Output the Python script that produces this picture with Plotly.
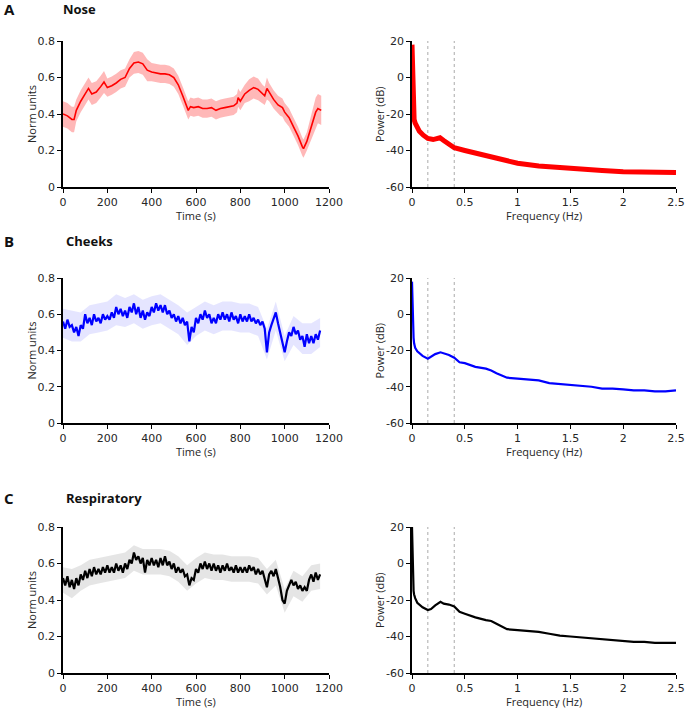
import plotly.graph_objects as go

W, H = 685, 708

# ---------------- data ----------------
nose_t = [0,20,40,50,60,80,100,115,130,150,170,185,200,220,240,260,280,300,320,340,
          360,380,400,420,440,460,480,500,520,540,555,565,575,590,610,630,650,670,690,710,
          730,750,770,785,790,800,820,840,860,880,900,910,920,930,950,970,980,990,1000,1020,
          1040,1060,1080,1085,1100,1120,1140,1150,1165]
nose_v = [0.40,0.39,0.37,0.37,0.42,0.47,0.51,0.54,0.51,0.52,0.55,0.575,0.545,0.555,0.57,
          0.59,0.60,0.65,0.68,0.685,0.675,0.64,0.63,0.625,0.62,0.62,0.615,0.60,0.56,0.50,
          0.45,0.42,0.44,0.435,0.44,0.43,0.43,0.435,0.42,0.43,0.435,0.44,0.445,0.46,0.49,
          0.47,0.51,0.53,0.545,0.535,0.51,0.50,0.54,0.52,0.48,0.45,0.44,0.435,0.41,0.38,
          0.33,0.28,0.22,0.21,0.25,0.33,0.41,0.43,0.42]
nose_sd = [0.07,0.07,0.07,0.07,0.06, 0.06,0.06,0.06,0.06,0.06, 0.06,0.06,0.05,0.05,0.05,
           0.05,0.05,0.05,0.06,0.06, 0.06,0.06,0.05,0.05,0.05, 0.05,0.05,0.05,0.05,0.05,
           0.05,0.05,0.05,0.05,0.05, 0.05,0.05,0.05,0.05,0.05, 0.05,0.05,0.05,0.05,0.05,
           0.05,0.05,0.06,0.06,0.06, 0.05,0.05,0.06,0.05,0.05, 0.05,0.05,0.05,0.05,0.05,
           0.05,0.05,0.05,0.05,0.05, 0.07,0.08,0.08,0.08]

dense_t = list(range(0, 1170, 10))
cheeks_v = [0.56,0.52,0.57,0.53,0.54,0.50,0.53,0.48,0.54,0.52,
            0.60,0.55,0.58,0.54,0.60,0.56,0.58,0.55,0.60,0.57,
            0.59,0.57,0.61,0.58,0.64,0.60,0.63,0.59,0.62,0.58,
            0.64,0.61,0.66,0.60,0.64,0.58,0.62,0.57,0.61,0.59,
            0.64,0.61,0.66,0.62,0.65,0.61,0.65,0.60,0.62,0.58,
            0.60,0.56,0.59,0.55,0.58,0.54,0.56,0.45,0.53,0.50,
            0.58,0.55,0.60,0.57,0.62,0.58,0.60,0.55,0.58,0.55,
            0.60,0.57,0.61,0.57,0.60,0.56,0.61,0.57,0.59,0.55,
            0.60,0.56,0.59,0.56,0.60,0.56,0.58,0.55,0.57,0.54,
            0.56,0.52,0.39,0.50,0.54,0.57,0.61,0.55,0.49,0.44,
            0.39,0.45,0.50,0.48,0.53,0.49,0.51,0.46,0.48,0.42,
            0.49,0.44,0.48,0.44,0.49,0.46,0.51]
resp_v = [0.52,0.48,0.53,0.47,0.51,0.46,0.52,0.48,0.54,0.51,
          0.56,0.52,0.57,0.53,0.58,0.54,0.57,0.54,0.58,0.55,
          0.59,0.55,0.58,0.55,0.60,0.56,0.59,0.55,0.60,0.57,
          0.62,0.60,0.66,0.62,0.64,0.60,0.63,0.55,0.62,0.59,
          0.63,0.59,0.62,0.58,0.63,0.59,0.64,0.59,0.61,0.57,
          0.60,0.55,0.58,0.55,0.57,0.53,0.54,0.48,0.52,0.51,
          0.57,0.55,0.60,0.57,0.61,0.57,0.60,0.56,0.60,0.56,
          0.59,0.55,0.59,0.56,0.60,0.56,0.58,0.55,0.59,0.55,
          0.58,0.55,0.58,0.55,0.59,0.56,0.58,0.54,0.57,0.54,
          0.56,0.52,0.47,0.54,0.56,0.53,0.57,0.52,0.47,0.40,
          0.38,0.45,0.48,0.51,0.48,0.50,0.46,0.48,0.45,0.47,
          0.45,0.51,0.54,0.50,0.55,0.51,0.54]

band_t = list(range(0, 1200, 40))
cheeks_hi = [0.63,0.62,0.61,0.65,0.66,0.67,0.71,0.69,0.71,0.68,0.70,0.71,0.68,0.65,0.61,
             0.64,0.67,0.65,0.67,0.67,0.66,0.66,0.64,0.52,0.67,0.48,0.59,0.55,0.55,0.58]
cheeks_lo = [0.47,0.45,0.45,0.49,0.50,0.51,0.54,0.53,0.55,0.52,0.54,0.55,0.52,0.49,0.43,
             0.48,0.51,0.49,0.51,0.51,0.50,0.50,0.48,0.35,0.51,0.34,0.43,0.38,0.38,0.42]
resp_hi = [0.58,0.57,0.59,0.62,0.63,0.64,0.65,0.66,0.70,0.68,0.68,0.68,0.67,0.64,0.59,
           0.63,0.66,0.65,0.65,0.64,0.64,0.64,0.63,0.57,0.62,0.46,0.56,0.53,0.59,0.60]
resp_lo = [0.44,0.41,0.45,0.48,0.49,0.50,0.51,0.52,0.56,0.54,0.54,0.54,0.53,0.50,0.45,
           0.49,0.52,0.51,0.51,0.50,0.50,0.50,0.49,0.43,0.48,0.33,0.42,0.39,0.45,0.46]

nose_f = [0,0.003,0.006,0.01,0.013,0.02,0.03,0.044,0.07,0.107,0.15,0.2,0.265,0.3,0.35,
          0.4,0.5,0.6,0.7,0.8,0.9,1.0,1.2,1.5,1.8,2.0,2.2,2.5]
nose_p = [18,10,0,-12,-20,-23,-25,-27,-29.5,-31.6,-33.4,-34,-33,-34.5,-36.5,
          -38.5,-40,-41.5,-43,-44.5,-46,-47,-48.5,-50,-51,-51.6,-52,-52]
psd_f = [0,0.003,0.006,0.01,0.015,0.02,0.03,0.05,0.08,0.1,0.15,0.18,0.22,0.27,0.3,0.35,
         0.4,0.45,0.5,0.6,0.7,0.75,0.8,0.9,1.0,1.1,1.2,1.3,1.4,1.5,1.6,1.7,1.8,1.9,2.0,
         2.1,2.2,2.3,2.4,2.5]
cheeks_p = [18,8,0,-8,-13,-16,-18.5,-20.5,-22,-23,-24.5,-23.5,-22,-21,-21.5,-22.5,
            -24,-26.5,-27,-29,-30,-31,-32.5,-35,-35.5,-36,-36.5,-38,-38.5,-39,-39.5,-40,
            -41,-41,-41.5,-42,-42,-42.5,-42.5,-42]
resp_p = [20,8,0,-8,-15,-17,-19,-21.5,-23,-24,-25.5,-25,-23,-21,-22,-22.5,
          -23.5,-26.5,-27.5,-29.5,-31,-31.5,-33,-36,-36.5,-37,-37.5,-38.5,-39.5,-40,-40.5,-41,
          -41.5,-42,-42.5,-43,-43,-43.5,-43.5,-43.5]
band_edges_hz = [0.15, 0.4]

panels = [("A", "Nose"), ("B", "Cheeks"), ("C", "Respiratory")]
time_ticks = [0, 200, 400, 600, 800, 1000, 1200]
norm_ticks = [0, 0.2, 0.4, 0.6, 0.8]
norm_ticklabels = ["0", "0.2", "0.4", "0.6", "0.8"]
freq_ticks = [0, 0.5, 1, 1.5, 2, 2.5]
freq_ticklabels = ["0", "0.5", "1", "1.5", "2", "2.5"]
pow_ticks = [-60, -40, -20, 0, 20]

# ---------------- layout geometry (pixels) ----------------
left_x = (63, 329)
right_x = (412, 676)
rows_px = [(41, 187), (278, 423), (527, 673)]
xlab_y = [215, 451, 701]
title_y = [9, 241, 498]

def px2x(p): return p / W
def px2y(p): return 1 - p / H

fig = go.Figure()

tick_font = dict(family="DejaVu Sans", size=11, color="#262626")

def add_axes(idx, xdom, ydom, xr, yr, xt, xtl, yt, ytl):
    xa = "xaxis" if idx == 1 else f"xaxis{idx}"
    ya = "yaxis" if idx == 1 else f"yaxis{idx}"
    yname = "y" if idx == 1 else f"y{idx}"
    xname = "x" if idx == 1 else f"x{idx}"
    common = dict(showline=True, linecolor="black", linewidth=1.6, ticks="outside",
                  ticklen=4, tickwidth=1.2, tickcolor="black", showgrid=False,
                  zeroline=False, tickfont=tick_font, fixedrange=True, automargin=False)
    fig.layout[xa] = dict(domain=[px2x(xdom[0]), px2x(xdom[1])], range=xr, tickvals=xt,
                          ticktext=xtl, anchor=yname, **common)
    fig.layout[ya] = dict(domain=[px2y(ydom[1]), px2y(ydom[0])], range=yr, tickvals=yt,
                          ticktext=ytl, anchor=xname, **common)
    return xname, yname

series = [
    dict(color="#ff0000", band="rgba(255,0,0,0.28)"),
    dict(color="#0000ff", band="rgba(0,0,255,0.10)"),
    dict(color="#000000", band="rgba(0,0,0,0.10)"),
]

annotations = []
shapes = []
for r in range(3):
    li = 2 * r + 1
    ri = 2 * r + 2
    lx, ly = add_axes(li, left_x, rows_px[r], [0, 1200], [0, 0.8], time_ticks,
                      [str(v) for v in time_ticks], norm_ticks, norm_ticklabels)
    rx, ry = add_axes(ri, right_x, rows_px[r], [0, 2.5], [-60, 20], freq_ticks,
                      freq_ticklabels, pow_ticks, [str(v) for v in pow_ticks])
    c = series[r]
    if r == 0:
        lo = [v - s for v, s in zip(nose_v, nose_sd)]
        hi = [v + s for v, s in zip(nose_v, nose_sd)]
        bt, mt, mv = nose_t, nose_t, nose_v
        lw = 1.6
    elif r == 1:
        lo, hi, bt, mt, mv = cheeks_lo, cheeks_hi, band_t, dense_t, cheeks_v
        lw = 2.2
    else:
        lo, hi, bt, mt, mv = resp_lo, resp_hi, band_t, dense_t, resp_v
        lw = 2.2
    fig.add_trace(go.Scatter(x=bt, y=lo, xaxis=lx, yaxis=ly, mode="lines",
                             line=dict(width=0, color=c["band"]), showlegend=False,
                             hoverinfo="skip"))
    fig.add_trace(go.Scatter(x=bt, y=hi, xaxis=lx, yaxis=ly, mode="lines", fill="tonexty",
                             fillcolor=c["band"], line=dict(width=0, color=c["band"]),
                             showlegend=False, hoverinfo="skip"))
    fig.add_trace(go.Scatter(x=mt, y=mv, xaxis=lx, yaxis=ly, mode="lines",
                             line=dict(width=lw, color=c["color"]), showlegend=False))
    # PSD
    if r == 0:
        pf, pp, pw = nose_f, nose_p, 5
    elif r == 1:
        pf, pp, pw = psd_f, cheeks_p, 2.2
    else:
        pf, pp, pw = psd_f, resp_p, 2.2
    for fe in band_edges_hz:
        shapes.append(dict(type="line", xref=rx, yref=ry, x0=fe, x1=fe, y0=-60, y1=20,
                           line=dict(color="#aaaaaa", width=1, dash="dot"), layer="below"))
    fig.add_trace(go.Scatter(x=pf, y=pp, xaxis=rx, yaxis=ry, mode="lines",
                             line=dict(width=pw, color=c["color"]), showlegend=False))

    ymid = (rows_px[r][0] + rows_px[r][1]) / 2
    lab_font = dict(family="Open Sans", size=11, color="#262626")
    base = dict(xref="paper", yref="paper", showarrow=False, xanchor="center",
                yanchor="middle")
    annotations.append(dict(text="Norm units", x=px2x(31), y=px2y(ymid), textangle=-90,
                            font=lab_font, **base))
    annotations.append(dict(text="Power (dB)", x=px2x(379), y=px2y(ymid), textangle=-90,
                            font=lab_font, **base))
    annotations.append(dict(text="Time (s)", x=px2x((left_x[0] + left_x[1]) / 2),
                            y=px2y(xlab_y[r]), font=lab_font, **base))
    annotations.append(dict(text="Frequency (Hz)", x=px2x((right_x[0] + right_x[1]) / 2),
                            y=px2y(xlab_y[r]), font=lab_font, **base))
    letter, name = panels[r]
    tb = dict(xref="paper", yref="paper", showarrow=False, xanchor="left", yanchor="middle")
    annotations.append(dict(text="<b>" + letter + "</b>", x=px2x(2), y=px2y(title_y[r]),
                            font=dict(family="Open Sans", size=15, color="#111111"), **tb))
    annotations.append(dict(text="<b>" + name + "</b>", x=px2x(61 if r == 0 else 64),
                            y=px2y(title_y[r]),
                            font=dict(family="Open Sans", size=13, color="#111111"), **tb))

fig.update_layout(width=W, height=H, margin=dict(l=0, r=0, t=0, b=0),
                  paper_bgcolor="white", plot_bgcolor="white", template="none",
                  annotations=annotations, shapes=shapes, showlegend=False)

fig.write_html("out.html", config={"displayModeBar": False},
               post_script="document.body.style.margin='0px';"
                           "document.body.style.overflow='hidden';")
